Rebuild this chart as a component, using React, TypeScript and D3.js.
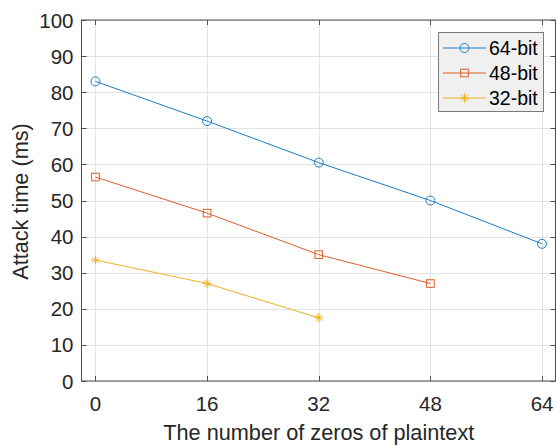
import React from 'react';
import * as d3 from 'd3';

// data
const xTicks = [0, 16, 32, 48, 64];
const yTicks = [0, 10, 20, 30, 40, 50, 60, 70, 80, 90, 100];
const x64 = [0, 16, 32, 48, 64];
const y64 = [83, 72, 60.5, 50, 38];
const x48 = [0, 16, 32, 48];
const y48 = [56.5, 46.5, 35, 27];
const x32 = [0, 16, 32];
const y32 = [33.5, 27, 17.5];
const seriesNames = ['64-bit', '48-bit', '32-bit'];
const colors = ['#1a7cc6', '#dd5e27', '#EDB120'];

const W = 556;
const H = 446;
const left = 81.5;
const right = 555.5;
const top = 20;
const bottom = 381;

const App = () => {
  const x = d3.scaleLinear().domain([-2, 66]).range([left, 556]);
  const y = d3.scaleLinear().domain([0, 100]).range([bottom, top]);
  const line = d3.line<[number, number]>()
    .x((d) => x(d[0]))
    .y((d) => y(d[1]));

  const series = [
    { xs: x64, ys: y64 },
    { xs: x48, ys: y48 },
    { xs: x32, ys: y32 },
  ];

  const marker = (i: number, cx: number, cy: number, key: string) => {
    const c = colors[i];
    if (i === 0) {
      return <circle key={key} cx={cx} cy={cy} r={4.5} fill="none" stroke={c} strokeWidth={1} />;
    }
    if (i === 1) {
      return <rect key={key} x={cx - 3.8} y={cy - 3.8} width={7.6} height={7.6} fill="none" stroke={c} strokeWidth={1} />;
    }
    const r = 4.5;
    return (
      <g key={key} stroke={c} strokeWidth={1}>
        <line x1={cx - r} y1={cy} x2={cx + r} y2={cy} />
        <line x1={cx} y1={cy - r} x2={cx} y2={cy + r} />
        <line x1={cx - r * 0.7} y1={cy - r * 0.7} x2={cx + r * 0.7} y2={cy + r * 0.7} />
        <line x1={cx - r * 0.7} y1={cy + r * 0.7} x2={cx + r * 0.7} y2={cy - r * 0.7} />
      </g>
    );
  };

  const axisColor = '#4d4d4d';
  const textColor = '#262626';
  const font = 'Liberation Sans, Arial, sans-serif';

  // legend
  const lgX = 438.5;
  const lgY = 32.5;
  const lgW = 105;
  const lgH = 79;

  return (
    <svg width={W} height={H} style={{ position: 'absolute', left: 0, top: 0, background: '#fff' }} fontFamily={font}>
      {/* grid */}
      {xTicks.map((t) => (
        <line key={'gx' + t} x1={Math.round(x(t)) + 0.5} x2={Math.round(x(t)) + 0.5} y1={top} y2={bottom} stroke="#e3e3e3" />
      ))}
      {yTicks.map((t) => (
        <line key={'gy' + t} x1={left} x2={right} y1={Math.round(y(t)) + 0.5} y2={Math.round(y(t)) + 0.5} stroke="#e3e3e3" />
      ))}

      {/* axes box and ticks */}
      <rect x={left} y={top} width={right - left} height={bottom - top} fill="none" stroke={axisColor} strokeWidth={1} />
      {xTicks.map((t) => {
        const px = Math.round(x(t)) + 0.5;
        return (
          <g key={'tx' + t} stroke={axisColor}>
            <line x1={px} x2={px} y1={bottom} y2={bottom - 5} />
            <line x1={px} x2={px} y1={top} y2={top + 5} />
          </g>
        );
      })}
      {yTicks.map((t) => {
        const py = Math.round(y(t)) + 0.5;
        return (
          <g key={'ty' + t} stroke={axisColor}>
            <line x1={left} x2={left + 5} y1={py} y2={py} />
            <line x1={right} x2={right - 5} y1={py} y2={py} />
          </g>
        );
      })}

      {/* tick labels */}
      {xTicks.map((t) => (
        <text key={'lx' + t} x={x(t)} y={411} textAnchor="middle" fontSize={20.5} fill={textColor}>{t}</text>
      ))}
      {yTicks.map((t) => (
        <text key={'ly' + t} x={73.5} y={y(t) + 7.5} textAnchor="end" fontSize={20.5} fill={textColor}>{t}</text>
      ))}

      {/* axis labels */}
      <text x={x(32)} y={440} textAnchor="middle" fontSize={21.7} fill={textColor}>The number of zeros of plaintext</text>
      <text transform={`translate(28, ${(top + bottom) / 2 + 1}) rotate(-90)`} textAnchor="middle" fontSize={21.7} fill={textColor}>Attack time (ms)</text>

      {/* series */}
      {series.map((s, i) => {
        const pts: [number, number][] = s.xs.map((v, j) => [v, s.ys[j]]);
        return (
          <g key={'s' + i}>
            <path d={line(pts) || ''} fill="none" stroke={colors[i]} strokeWidth={1} />
            {pts.map((p, j) => marker(i, x(p[0]), y(p[1]), 'm' + i + '-' + j))}
          </g>
        );
      })}

      {/* legend */}
      <rect x={lgX} y={lgY} width={lgW} height={lgH} fill="#f0f0f0" stroke="#7a7a7a" strokeWidth={1} />
      {seriesNames.map((n, i) => {
        const cy = 48 + i * 25;
        return (
          <g key={'lg' + i}>
            <line x1={443} x2={486} y1={cy} y2={cy} stroke={colors[i]} strokeWidth={1} />
            {marker(i, 464.5, cy, 'lm' + i)}
            <text x={489} y={cy + 7} fontSize={19.5} fill="#000">{n}</text>
          </g>
        );
      })}
    </svg>
  );
};

export default App;
